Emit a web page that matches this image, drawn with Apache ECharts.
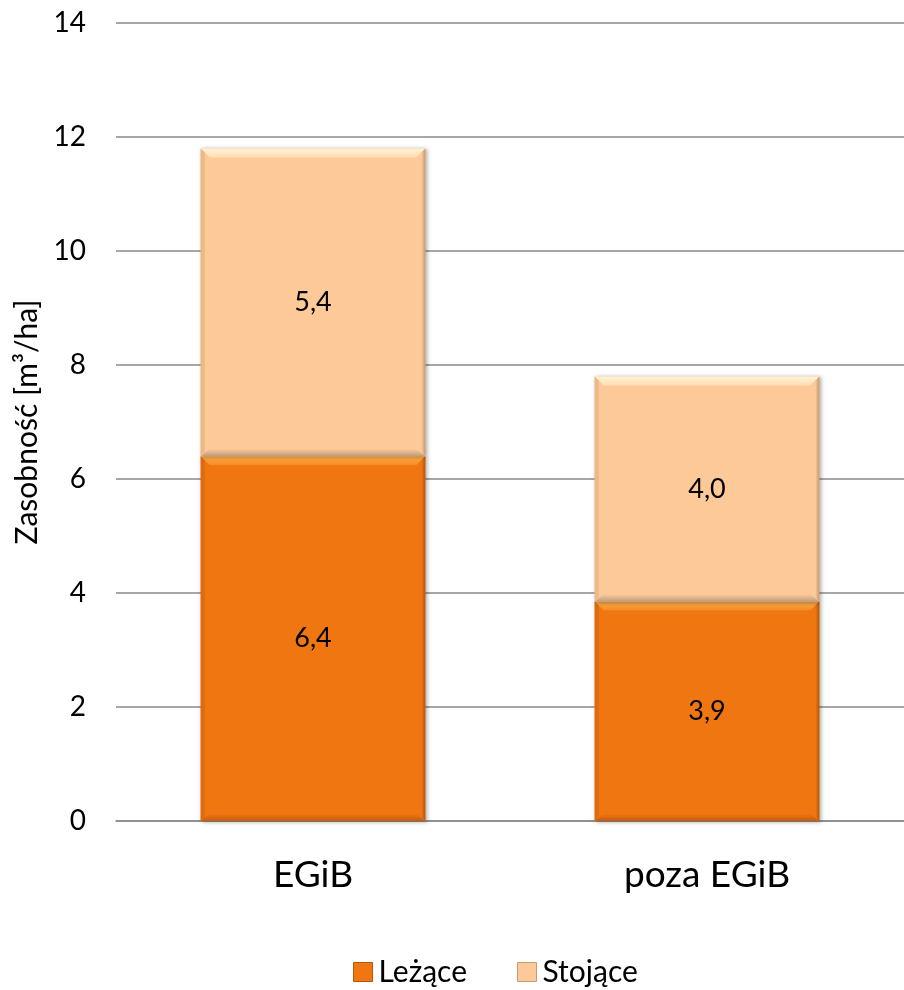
<!DOCTYPE html>
<html>
<head>
<meta charset="utf-8">
<script src="https://cdn.jsdelivr.net/npm/echarts@6/dist/echarts.min.js"></script>
<style>html,body{margin:0;padding:0;background:#fff}#c{width:904px;height:990px}</style>
</head>
<body>
<div id="c"></div>
<script>
const categories = ['EGiB', 'poza EGiB'];
const seriesNames = ['Leżące', 'Stojące'];
const lezace = [6.4, 3.85];
const stojace = [5.4, 3.95];
const yMin = 0, yMax = 14, yInterval = 2;
const yTitle = 'Zasobność [m³/ha]';

const FONT = 'Lato, "Open Sans", sans-serif';
const palettes = [
  { face: '#F07612', top1: '#FFB049', top2: '#F58A22', bottom: '#C65C0C', left: '#E06A0E', right: '#B9560A' },
  { face: '#FDC998', top1: '#FFF3D9', top2: '#FFDDB2', bottom: '#BE9C7E', left: '#EBB887', right: '#C99A70' }
];

function fmt(v) { return v.toFixed(1).replace('.', ','); }

function makeRender(pal) {
  return function (params, api) {
    const cat = api.value(0), base = api.value(1), top = api.value(2), val = api.value(3);
    const pb = api.coord([cat, base]);
    const pt = api.coord([cat, top]);
    const w = api.size([1, 0])[0] * 0.57;
    const x0 = pb[0] - w / 2, x1 = pb[0] + w / 2, y0 = pt[1], y1 = pb[1];
    const b = Math.min(9, (y1 - y0) / 3);
    const s = 4;
    return {
      type: 'group',
      children: [
        { type: 'rect', shape: { x: x0, y: y0, width: x1 - x0, height: y1 - y0 },
          style: { fill: pal.face, shadowBlur: 4, shadowOffsetX: 1.5, shadowOffsetY: 1, shadowColor: 'rgba(0,0,0,0.35)' } },
        { type: 'polygon', shape: { points: [[x0, y0], [x1, y0], [x1 - b, y0 + b], [x0 + b, y0 + b]] },
          style: { fill: { type: 'linear', x: 0, y: 0, x2: 0, y2: 1, colorStops: [{ offset: 0, color: pal.top1 }, { offset: 1, color: pal.top2 }] } } },
        { type: 'polygon', shape: { points: [[x0, y1], [x1, y1], [x1 - b, y1 - b * 0.8], [x0 + b, y1 - b * 0.8]] },
          style: { fill: { type: 'linear', x: 0, y: 0, x2: 0, y2: 1, colorStops: [{ offset: 0, color: pal.face }, { offset: 1, color: pal.bottom }] } } },
        { type: 'polygon', shape: { points: [[x0, y0], [x0 + s, y0 + s], [x0 + s, y1 - s], [x0, y1]] },
          style: { fill: pal.left } },
        { type: 'polygon', shape: { points: [[x1, y0], [x1 - s, y0 + s], [x1 - s, y1 - s], [x1, y1]] },
          style: { fill: { type: 'linear', x: 0, y: 0, x2: 1, y2: 0, colorStops: [{ offset: 0, color: pal.face }, { offset: 1, color: pal.right }] } } },
        { type: 'text', style: { text: fmt(val), x: pb[0], y: (y0 + y1) / 2, align: 'center', verticalAlign: 'middle',
          fontSize: 27, fontFamily: FONT, fill: '#000' } }
      ]
    };
  };
}

const lezData = categories.map((c, i) => [i, 0, lezace[i], lezace[i]]);
const stoData = categories.map((c, i) => [i, lezace[i], lezace[i] + stojace[i], stojace[i]]);

const chart = echarts.init(document.getElementById('c'));
chart.setOption({
  animation: false,
  backgroundColor: '#fff',
  textStyle: { fontFamily: FONT },
  grid: { left: 116, top: 23, bottom: 169, width: 797 },
  legend: {
    top: 952, left: 348, itemWidth: 19, itemHeight: 19, itemGap: 50,
    icon: 'rect',
    textStyle: { fontSize: 30, color: '#000', fontFamily: FONT, padding: [0, 0, 0, 1] },
    data: [
      { name: seriesNames[0], itemStyle: { color: palettes[0].face, borderColor: palettes[0].right, borderWidth: 1 } },
      { name: seriesNames[1], itemStyle: { color: palettes[1].face, borderColor: palettes[1].right, borderWidth: 1 } }
    ]
  },
  xAxis: {
    type: 'category', data: categories,
    axisTick: { show: false },
    axisLine: { lineStyle: { color: '#8a8a8a', width: 1.5 } },
    axisLabel: { fontSize: 37, color: '#000', margin: 36, fontFamily: FONT }
  },
  yAxis: {
    type: 'value', min: yMin, max: yMax, interval: yInterval,
    name: yTitle, nameLocation: 'middle', nameGap: 74, nameRotate: 90,
    nameTextStyle: { fontSize: 30, color: '#000', fontFamily: FONT },
    axisLine: { show: false }, axisTick: { show: false },
    axisLabel: { fontSize: 28, color: '#000', margin: 30, fontFamily: FONT },
    splitLine: { lineStyle: { color: '#8a8a8a', width: 1.5 } }
  },
  series: [
    { type: 'custom', name: seriesNames[0], renderItem: makeRender(palettes[0]), data: lezData,
      encode: { x: 0, y: [1, 2] }, itemStyle: { color: palettes[0].face }, z: 2 },
    { type: 'custom', name: seriesNames[1], renderItem: makeRender(palettes[1]), data: stoData,
      encode: { x: 0, y: [1, 2] }, itemStyle: { color: palettes[1].face }, z: 2 }
  ]
});
</script>
</body>
</html>
